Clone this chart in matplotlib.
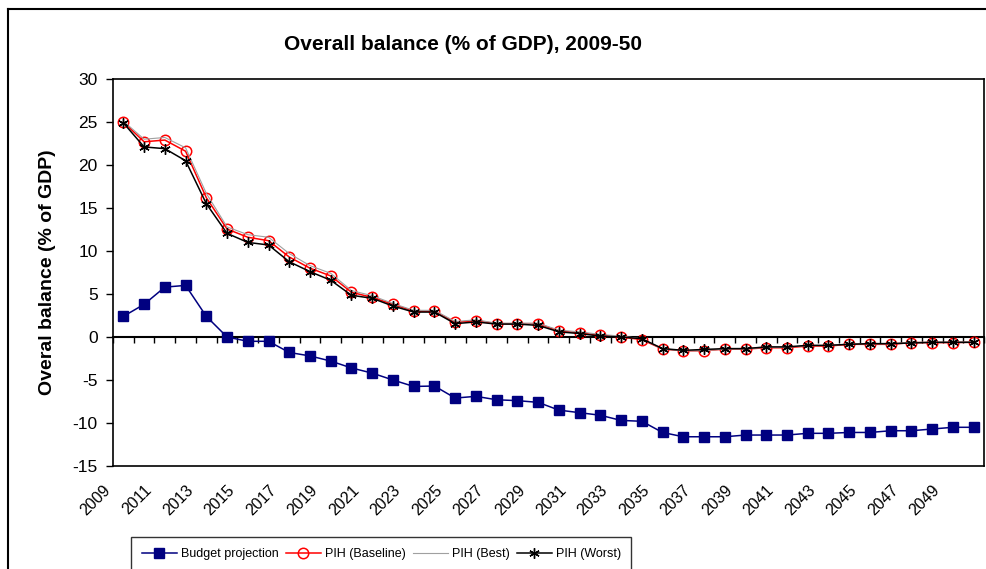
import numpy as np
import matplotlib
matplotlib.use('Agg')
import matplotlib.pyplot as plt
from matplotlib import font_manager
from matplotlib.lines import Line2D
from matplotlib.transforms import ScaledTranslation

years = list(range(2009, 2051))
budget = [2.4, 3.8, 5.8, 6.0, 2.4, 0.0, -0.5, -0.5, -1.8, -2.2, -2.8, -3.6, -4.2, -5.0,
          -5.75, -5.7, -7.1, -6.9, -7.3, -7.4, -7.6, -8.5, -8.8, -9.1, -9.7, -9.8, -11.1,
          -11.6, -11.6, -11.6, -11.4, -11.4, -11.4, -11.2, -11.2, -11.1, -11.1, -10.9,
          -10.9, -10.7, -10.5, -10.5]
baseline = [25.0, 22.7, 22.9, 21.6, 16.2, 12.55, 11.6, 11.2, 9.3, 8.0, 7.1, 5.2, 4.6, 3.8,
            3.0, 3.0, 1.7, 1.9, 1.55, 1.55, 1.55, 0.7, 0.5, 0.2, 0.0, -0.3, -1.4, -1.6,
            -1.6, -1.4, -1.4, -1.25, -1.25, -1.05, -1.05, -0.85, -0.85, -0.85, -0.65,
            -0.65, -0.65, -0.6]
best = [25.1, 23.0, 23.2, 22.0, 16.7, 12.8, 11.9, 11.6, 9.7, 8.3, 7.4, 5.4, 4.8, 3.9,
        3.1, 3.1, 1.8, 2.0, 1.6, 1.6, 1.6, 0.8, 0.6, 0.3, 0.1, -0.2, -1.4, -1.6, -1.6,
        -1.4, -1.4, -1.2, -1.2, -1.0, -1.0, -0.8, -0.8, -0.8, -0.6, -0.6, -0.6, -0.55]
worst = [24.9, 22.1, 21.9, 20.5, 15.5, 12.05, 11.0, 10.7, 8.75, 7.6, 6.6, 4.85, 4.5, 3.6,
         2.9, 2.9, 1.55, 1.75, 1.5, 1.5, 1.35, 0.6, 0.4, 0.1, 0.0, -0.2, -1.35, -1.55,
         -1.45, -1.35, -1.35, -1.15, -1.15, -0.97, -0.97, -0.85, -0.77, -0.77, -0.7,
         -0.62, -0.62, -0.62]
y_ticks = list(range(-15, 31, 5))

# legend text in the original is condensed; use a narrow face if one is installed
names = {f.name for f in font_manager.fontManager.ttflist}
leg_font, leg_size = 'Liberation Sans', 9.0
for cand in ['Liberation Sans Narrow', 'DejaVu Sans Condensed']:
    if cand in names:
        leg_font, leg_size = cand, 10.5
        break

plt.rcParams['font.family'] = ['Liberation Sans', 'DejaVu Sans']
plt.rcParams['axes.unicode_minus'] = False

fig = plt.figure(figsize=(9.87, 5.69), dpi=100)
ax = fig.add_axes([113 / 987, 103 / 569, 871 / 987, 387 / 569])

x = np.arange(len(years))
ax.plot(x, budget, color='#000080', lw=1.1, marker='s', ms=7, label='Budget projection')
ax.plot(x, baseline, color='#FF0000', lw=1.1, marker='o', ms=7.5, mfc='none', mew=1.1,
        label='PIH (Baseline)')
ax.plot(x, best, color='#A0A0A0', lw=0.8, label='PIH (Best)')
ax.plot(x, worst, color='black', lw=1.1, marker=(6, 2, 0), ms=7.5, mew=1.0, label='PIH (Worst)')

ax.set_xlim(-0.5, len(years) - 0.5)
ax.set_ylim(-15, 30)
ax.set_yticks(y_ticks)
ax.tick_params(axis='y', direction='out', length=5, width=1, labelsize=12.5, pad=6)
for s in ax.spines.values():
    s.set_linewidth(1.2)

# category labels along the bottom, every second year
ax.set_xticks(x[::2])
ax.set_xticklabels([str(y) for y in years[::2]], rotation=45, ha='right',
                   rotation_mode='anchor', fontsize=11.5)
ax.tick_params(axis='x', length=0, pad=12)
shift = ScaledTranslation(-15 / 72, 0, fig.dpi_scale_trans)
for lbl in ax.get_xticklabels():
    lbl.set_transform(lbl.get_transform() + shift)

# zero line with tick marks between categories
zero_pos = (0 - ax.get_ylim()[0]) / (ax.get_ylim()[1] - ax.get_ylim()[0])
sec = ax.secondary_xaxis(zero_pos)
sec.set_xticks(np.arange(-0.5, len(years) - 0.4, 1.0))
sec.set_xticklabels([])
sec.tick_params(axis='x', direction='out', length=4, width=1)
sec.spines['bottom'].set_linewidth(1.5)

ax.set_ylabel('Overal balance (% of GDP)', fontsize=14, fontweight='bold')
ax.yaxis.set_label_coords(-57 / 871, 0.5)
fig.text(463 / 987, 1 - 44 / 569, 'Overall balance (% of GDP), 2009-50', ha='center',
         va='center', fontsize=15, fontweight='bold')

leg = fig.legend(loc='upper left', bbox_to_anchor=(125 / 987, 1 - 531 / 569), ncol=4,
                 frameon=True, fancybox=False, edgecolor='black', handlelength=2.8,
                 handletextpad=0.3, columnspacing=0.6, borderpad=0.85,
                 prop={'family': leg_font, 'size': leg_size})
leg.get_frame().set_linewidth(1.0)

# outer chart frame
fig.add_artist(Line2D([8 / 987, 8 / 987], [0, 1 - 9 / 569], color='black', lw=1.5))
fig.add_artist(Line2D([8 / 987, 1], [1 - 9 / 569, 1 - 9 / 569], color='black', lw=1.5))

fig.savefig('out.png', dpi=100)
